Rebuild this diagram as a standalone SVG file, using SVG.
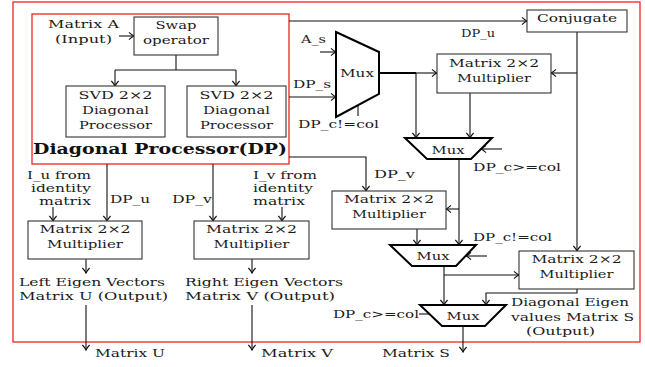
<svg xmlns="http://www.w3.org/2000/svg" width="645" height="367" viewBox="0 0 645 367">
<defs>
<marker id="ah" viewBox="-6 -4.5 7 9" refX="0" refY="0" markerWidth="7" markerHeight="9" orient="auto" markerUnits="userSpaceOnUse">
<path d="M-5,-3.6 Q-2,-0.8 0,0 Q-2,0.8 -5,3.6" fill="none" stroke="#111" stroke-width="1.1"/>
</marker>
<style>
.t{font-family:"DejaVu Serif","Liberation Serif",serif;font-size:11.5px;fill:#1a1a1a}
.s{font-size:11px}
.c{text-anchor:middle}
.e{text-anchor:end}
.b{font-family:"DejaVu Serif","Liberation Serif",serif;font-size:15px;font-weight:bold;fill:#111}
.box{fill:#fff;stroke:#333;stroke-width:1.1}
.mux{fill:#fff;stroke:#000;stroke-width:2}
.red{fill:none;stroke:#f01010;stroke-width:1.2}
.w{fill:none;stroke:#111;stroke-width:1.1}
.a{fill:none;stroke:#111;stroke-width:1.1;marker-end:url(#ah)}
</style>
</defs>
<rect width="645" height="367" fill="#fff"/>

<g id="outer-frame"><rect class="red" x="13" y="2" width="627" height="340"/></g>
<g id="dp-frame"><rect class="red" x="32" y="14" width="257" height="150"/>
<text class="b" x="33" y="154" textLength="254" lengthAdjust="spacingAndGlyphs">Diagonal Processor(DP)</text></g>

<g id="connectors">
<path class="a" d="M119,36 H134"/>
<path class="w" d="M176,55 V70 M115,70 H236"/>
<path class="a" d="M115,70 V86"/>
<path class="a" d="M236,70 V86"/>
<path class="a" d="M289,21 H527"/>
<path class="a" d="M320,52 H336"/>
<path class="a" d="M289,97 H336"/>
<path class="w" d="M358,105 V116"/>
<path d="M379,73 H416" fill="none" stroke="#000" stroke-width="1.8"/>
<path class="a" d="M416,73 H437"/>
<path class="a" d="M416,73 V138"/>
<path class="w" d="M577,32 V73"/>
<path class="a" d="M577,73 H551"/>
<path class="a" d="M577,73 V251"/>
<path class="a" d="M470,93 V138"/>
<path class="a" d="M502,149 H481"/>
<path class="w" d="M459,159 V209"/>
<path class="a" d="M459,209 H446"/>
<path class="a" d="M459,209 V245"/>
<path class="a" d="M289,157 H366 V191"/>
<path class="a" d="M417,229 V245"/>
<path class="a" d="M487,256 H466"/>
<path class="w" d="M444,266 V275"/>
<path class="a" d="M444,275 H519"/>
<path class="a" d="M444,275 V305"/>
<path class="a" d="M577,289 V293 H486 V305"/>
<path class="w" d="M419,314 H430"/>
<path class="a" d="M463,326 V352"/>
<path class="a" d="M53,207 V221"/>
<path class="a" d="M107,164 V221"/>
<path class="a" d="M213,164 V221"/>
<path class="a" d="M282,207 V221"/>
<path class="a" d="M86,259 V273"/>
<path class="a" d="M252,259 V273"/>
<path class="a" d="M86,305 V350"/>
<path class="a" d="M252,305 V350"/>
</g>

<g id="matrix-a-input">
<text class="t" x="48" y="28" textLength="71" lengthAdjust="spacingAndGlyphs">Matrix A</text>
<text class="t" x="55" y="43" textLength="57" lengthAdjust="spacingAndGlyphs">(Input)</text>
</g>
<g id="swap">
<rect class="box" x="134" y="17" width="84" height="38"/>
<text class="t c" x="176" y="29" textLength="41" lengthAdjust="spacingAndGlyphs">Swap</text>
<text class="t c" x="176" y="44" textLength="66" lengthAdjust="spacingAndGlyphs">operator</text>
</g>
<g id="svd1">
<rect class="box" x="66" y="86" width="99" height="51"/>
<text class="t c" x="115.5" y="99" textLength="74" lengthAdjust="spacingAndGlyphs">SVD 2×2</text>
<text class="t c" x="115.5" y="114" textLength="67" lengthAdjust="spacingAndGlyphs">Diagonal</text>
<text class="t c" x="115.5" y="129" textLength="73" lengthAdjust="spacingAndGlyphs">Processor</text>
</g>
<g id="svd2">
<rect class="box" x="187" y="86" width="99" height="51"/>
<text class="t c" x="236.5" y="99" textLength="74" lengthAdjust="spacingAndGlyphs">SVD 2×2</text>
<text class="t c" x="236.5" y="114" textLength="67" lengthAdjust="spacingAndGlyphs">Diagonal</text>
<text class="t c" x="236.5" y="129" textLength="73" lengthAdjust="spacingAndGlyphs">Processor</text>
</g>
<g id="conjugate">
<rect class="box" x="527" y="10" width="100" height="22"/>
<text class="t c" x="577" y="22" textLength="80" lengthAdjust="spacingAndGlyphs">Conjugate</text>
</g>
<g id="labels-top">
<text class="t" x="461" y="37" textLength="34" lengthAdjust="spacingAndGlyphs">DP_u</text>
<text class="t" x="301" y="43" textLength="25" lengthAdjust="spacingAndGlyphs">A_s</text>
<text class="t" x="293" y="88" textLength="38" lengthAdjust="spacingAndGlyphs">DP_s</text>
<text class="t" x="298" y="128" textLength="81" lengthAdjust="spacingAndGlyphs">DP_c!=col</text>
</g>
<g id="mux1">
<path class="mux" d="M336,32 L379,52 L379,94 L336,117 Z"/>
<text class="t" x="340" y="77" textLength="34" lengthAdjust="spacingAndGlyphs">Mux</text>
</g>
<g id="mult1">
<rect class="box" x="437" y="54" width="114" height="39"/>
<text class="t c" x="494" y="67" textLength="90" lengthAdjust="spacingAndGlyphs">Matrix 2×2</text>
<text class="t c" x="494" y="82" textLength="74" lengthAdjust="spacingAndGlyphs">Multiplier</text>
</g>
<g id="mux2">
<path class="mux" d="M405,138 L492,138 L471,159 L427,159 Z"/>
<text class="t c" x="448" y="154" textLength="33" lengthAdjust="spacingAndGlyphs">Mux</text>
<text class="t" x="473" y="171" textLength="88" lengthAdjust="spacingAndGlyphs">DP_c&gt;=col</text>
</g>
<g id="mult2">
<rect class="box" x="332" y="191" width="114" height="38"/>
<text class="t c" x="389" y="203" textLength="90" lengthAdjust="spacingAndGlyphs">Matrix 2×2</text>
<text class="t c" x="389" y="218" textLength="74" lengthAdjust="spacingAndGlyphs">Multiplier</text>
<text class="t" x="374" y="178" textLength="41" lengthAdjust="spacingAndGlyphs">DP_v</text>
</g>
<g id="mux3">
<path class="mux" d="M390,245 L476,245 L456,266 L412,266 Z"/>
<text class="t c" x="433" y="260" textLength="33" lengthAdjust="spacingAndGlyphs">Mux</text>
<text class="t" x="473" y="241" textLength="79" lengthAdjust="spacingAndGlyphs">DP_c!=col</text>
</g>
<g id="mult3">
<rect class="box" x="519" y="251" width="115" height="38"/>
<text class="t c" x="576.5" y="263" textLength="90" lengthAdjust="spacingAndGlyphs">Matrix 2×2</text>
<text class="t c" x="576.5" y="278" textLength="74" lengthAdjust="spacingAndGlyphs">Multiplier</text>
</g>
<g id="mux4">
<path class="mux" d="M420,305 L506,305 L485,326 L442,326 Z"/>
<text class="t c" x="463" y="320" textLength="33" lengthAdjust="spacingAndGlyphs">Mux</text>
<text class="t" x="333" y="318" textLength="86" lengthAdjust="spacingAndGlyphs">DP_c&gt;=col</text>
</g>
<g id="output-s">
<text class="t s" x="511" y="306" textLength="118" lengthAdjust="spacingAndGlyphs">Diagonal Eigen</text>
<text class="t s" x="511" y="321" textLength="123" lengthAdjust="spacingAndGlyphs">values Matrix S</text>
<text class="t s" x="526" y="335" textLength="69" lengthAdjust="spacingAndGlyphs">(Output)</text>
<text class="t" x="382" y="357" textLength="68" lengthAdjust="spacingAndGlyphs">Matrix S</text>
</g>
<g id="mult-left">
<rect class="box" x="28" y="221" width="114" height="38"/>
<text class="t c" x="85" y="233" textLength="91" lengthAdjust="spacingAndGlyphs">Matrix 2×2</text>
<text class="t c" x="85" y="248" textLength="76" lengthAdjust="spacingAndGlyphs">Multiplier</text>
<text class="t s e" x="91" y="179" textLength="64" lengthAdjust="spacingAndGlyphs">I_u from</text>
<text class="t s e" x="91" y="192" textLength="60" lengthAdjust="spacingAndGlyphs">identity</text>
<text class="t s e" x="91" y="205" textLength="52" lengthAdjust="spacingAndGlyphs">matrix</text>
<text class="t" x="110" y="203" textLength="40" lengthAdjust="spacingAndGlyphs">DP_u</text>
</g>
<g id="mult-right">
<rect class="box" x="194" y="221" width="115" height="38"/>
<text class="t c" x="251.5" y="233" textLength="91" lengthAdjust="spacingAndGlyphs">Matrix 2×2</text>
<text class="t c" x="251.5" y="248" textLength="76" lengthAdjust="spacingAndGlyphs">Multiplier</text>
<text class="t s" x="253" y="179" textLength="64" lengthAdjust="spacingAndGlyphs">I_v from</text>
<text class="t s" x="253" y="192" textLength="60" lengthAdjust="spacingAndGlyphs">identity</text>
<text class="t s" x="253" y="205" textLength="52" lengthAdjust="spacingAndGlyphs">matrix</text>
<text class="t" x="172" y="203" textLength="40" lengthAdjust="spacingAndGlyphs">DP_v</text>
</g>
<g id="output-u">
<text class="t" x="19" y="286" textLength="146" lengthAdjust="spacingAndGlyphs">Left Eigen Vectors</text>
<text class="t" x="19" y="300" textLength="149" lengthAdjust="spacingAndGlyphs">Matrix U (Output)</text>
<text class="t" x="95" y="357" textLength="70" lengthAdjust="spacingAndGlyphs">Matrix U</text>
</g>
<g id="output-v">
<text class="t" x="185" y="286" textLength="158" lengthAdjust="spacingAndGlyphs">Right Eigen Vectors</text>
<text class="t" x="185" y="300" textLength="150" lengthAdjust="spacingAndGlyphs">Matrix V (Output)</text>
<text class="t" x="261" y="357" textLength="72" lengthAdjust="spacingAndGlyphs">Matrix V</text>
</g>
</svg>
